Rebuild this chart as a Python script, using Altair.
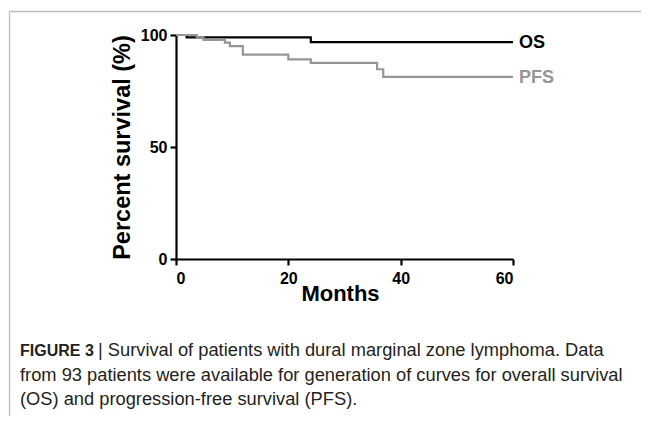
import altair as alt
import pandas as pd

# ---- data ----
os_months = [0, 1.9, 24.0, 60]
os_values = [100, 98.9, 96.8, 96.8]
pfs_months = [0, 3.7, 4.9, 8.7, 9.6, 11.9, 20.0, 24.0, 35.8, 36.9, 60]
pfs_values = [100, 98.9, 97.8, 96.6, 95.0, 91.2, 89.1, 87.6, 84.7, 81.3, 81.3]
series_names = ["OS", "PFS"]
series_colors = ["#000000", "#969696"]
x_ticks = [0, 20, 40, 60]
y_ticks = [0, 50, 100]
caption_bold = "FIGURE 3"
caption_line1 = "| Survival of patients with dural marginal zone lymphoma. Data"
caption_line2 = "from 93 patients were available for generation of curves for overall survival"
caption_line3 = "(OS) and progression-free survival (PFS)."

FONT = "Liberation Sans"

df = pd.concat([
    pd.DataFrame({"month": os_months, "pct": os_values, "series": "OS", "order": range(len(os_months))}),
    pd.DataFrame({"month": pfs_months, "pct": pfs_values, "series": "PFS", "order": range(len(pfs_months))}),
])
ends = pd.DataFrame({"month": [os_months[-1], pfs_months[-1]],
                     "pct": [os_values[-1], pfs_values[-1]],
                     "series": series_names})

color = alt.Color("series:N", scale=alt.Scale(domain=series_names, range=series_colors), legend=None)

lines = alt.Chart(df).mark_line(interpolate="step-after", strokeWidth=2.2).encode(
    x=alt.X("month:Q", scale=alt.Scale(domain=[0, 60], nice=False),
            axis=alt.Axis(values=x_ticks, title="Months", titleX=164, titleY=41,
                          titleBaseline="alphabetic", titleAlign="center")),
    y=alt.Y("pct:Q", scale=alt.Scale(domain=[0, 100], nice=False),
            axis=alt.Axis(values=y_ticks, title="Percent survival (%)", titleX=-47, titleY=112,
                          titleAngle=-90, titleAlign="center", titleBaseline="alphabetic",
                          titleFontSize=23.5)),
    color=color,
    order="order:Q",
    detail="series:N",
)

labels = alt.Chart(ends).mark_text(align="left", baseline="middle", dx=6, dy=1,
                                   font=FONT, fontSize=18, fontWeight="bold").encode(
    x="month:Q", y="pct:Q", text="series:N", color=color)

one = pd.DataFrame({"a": [0]})

border_top = alt.Chart(one).mark_rule(color="#bdbdbd", strokeWidth=1.3).encode(
    x=alt.value(-166.5), x2=alt.value(480), y=alt.value(-23.5))
border_left = alt.Chart(one).mark_rule(color="#bdbdbd", strokeWidth=1.3).encode(
    x=alt.value(-166.5), y=alt.value(-23.5), y2=alt.value(400))

def cap(text, x, y, size, bold=False):
    return alt.Chart(one).mark_text(align="left", baseline="alphabetic", font=FONT, fontSize=size,
                                    fontWeight="bold" if bold else "normal",
                                    color="#231f20", text=text).encode(
        x=alt.value(x), y=alt.value(y))

captions = [
    cap(caption_bold, -156, 321, 16, bold=True),
    cap(caption_line1, -78, 321, 18.3),
    cap(caption_line2, -156, 346, 18.3),
    cap(caption_line3, -156, 370, 18.3),
]

chart = alt.layer(border_top, border_left, lines, labels, *captions).properties(
    width=337, height=224,
    autosize=alt.AutoSizeParams(type="none"),
    padding={"left": 168, "top": 27, "right": 128, "bottom": 157},
).configure_view(stroke=None).configure_axis(
    grid=False, domainColor="black", domainWidth=2.2, tickColor="black", tickWidth=2.2,
    tickSize=6, labelFont=FONT, labelFontSize=16, labelFontWeight="bold", labelColor="black",
    titleFont=FONT, titleFontSize=22, titleFontWeight="bold", titleColor="black",
).configure_axisX(labelPadding=5).configure_axisY(labelPadding=3)

chart.save("out.html", embed_options={"renderer": "svg", "actions": False})
